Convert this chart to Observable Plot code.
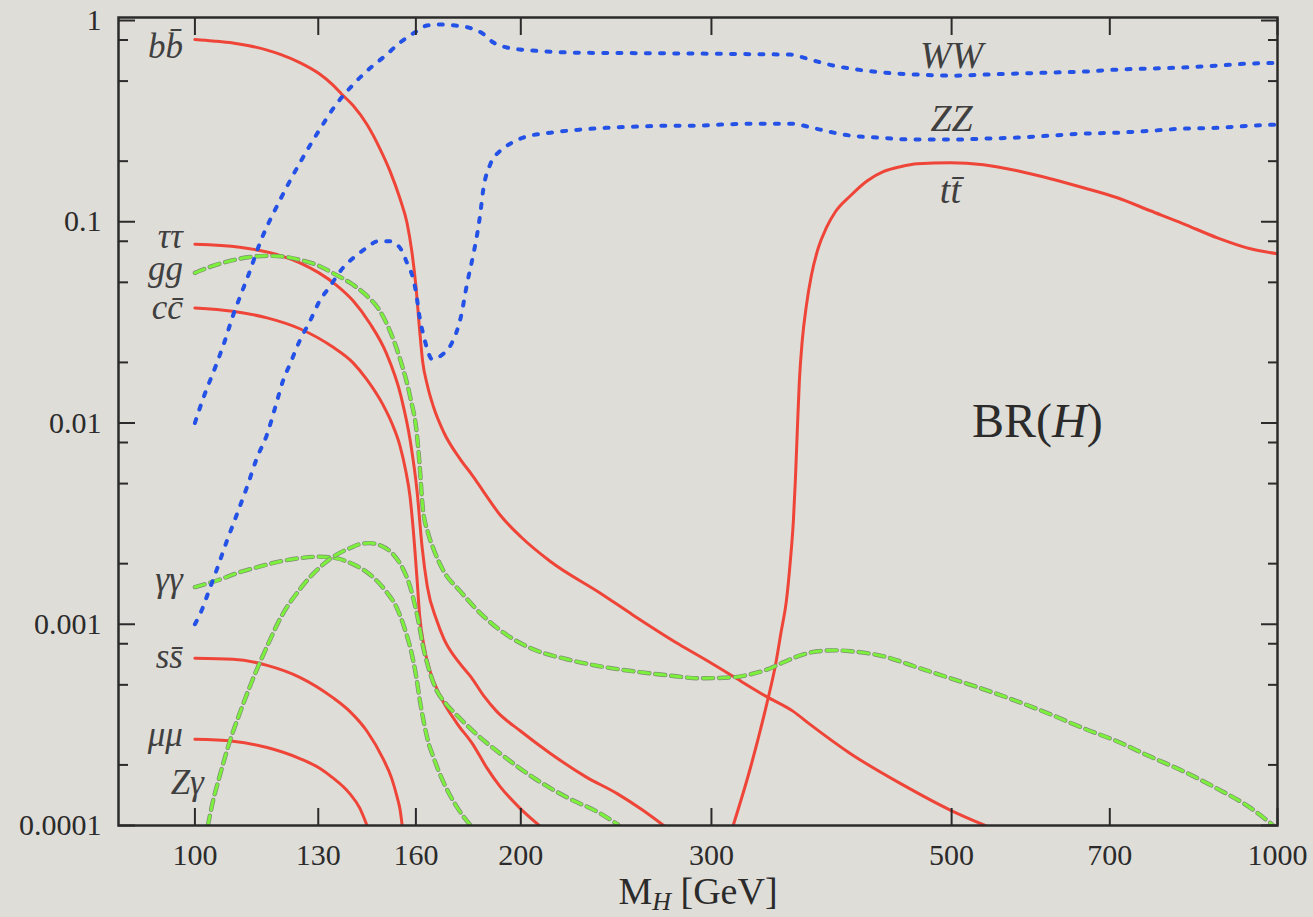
<!DOCTYPE html>
<html><head><meta charset="utf-8">
<script src="https://cdn.jsdelivr.net/npm/d3@7"></script>
<script src="https://cdn.jsdelivr.net/npm/@observablehq/plot@0.6"></script>
<style>
html,body{margin:0;padding:0;background:#dfddd8;}
#chart svg{display:block;}
</style></head><body><div id="chart"></div>
<script>
// ---- axis ticks ----
const xTicks = [100, 130, 160, 200, 300, 500, 700, 1000];
const yTicks = [0.0001, 0.001, 0.01, 0.1, 1];
const yTickLabels = ["0.0001", "0.001", "0.01", "0.1", "1"];
const yMinorTicks = [0.0002, 0.0005, 0.0008, 0.002, 0.005, 0.008, 0.02, 0.05, 0.08, 0.2, 0.5, 0.8];

// ---- branching ratios [M_H (GeV), BR] ----
const bb = [[100,0.804],[103.9,0.791],[108.4,0.773],[111.9,0.751],[116.6,0.713],[120.1,0.677],[125,0.618],[130.2,0.545],[134,0.48],[136.8,0.428],[140,0.378],[144.2,0.304],[148.2,0.231],[151.4,0.179],[154.7,0.130],[157,0.0989],[158.6,0.0717],[160,0.048],[161.3,0.0287],[162.3,0.0203],[164,0.0153],[166,0.01215],[169.9,0.00892],[175.8,0.00662],[180.6,0.00545],[184.6,0.00459],[191.4,0.00349],[200,0.00272],[213,0.00205],[236.7,0.00143],[254,0.00111],[280,0.000795],[300,0.00064],[314,0.000551],[337,0.000438],[357,0.000369],[370,0.000318],[403,0.000228],[450,0.00016],[499,0.000119],[537,0.0001]];
const tautau = [[100,0.0773],[110,0.0747],[115.1,0.0717],[120.1,0.0677],[125,0.0625],[130.2,0.0557],[135,0.0486],[140,0.0405],[145,0.0314],[150.2,0.0223],[155,0.0136],[158.1,0.00814],[160.4,0.00459],[162.1,0.00244],[163.9,0.00155],[167.3,0.00104],[169.9,0.000842],[175,0.000655],[180,0.000545],[185,0.000438],[190,0.000369],[200,0.000294],[213,0.000228],[229.5,0.000175],[245.5,0.000144],[258.7,0.00012],[271,0.0001]];
const cc = [[100,0.0373],[108.4,0.0359],[116.6,0.0333],[125,0.0294],[134,0.0239],[140,0.0199],[144,0.01656],[149.2,0.0123],[152,0.01],[154.7,0.00768],[156.6,0.00577],[158,0.00433],[159,0.00307],[160.4,0.00167],[161.3,0.0011],[162.8,0.000777],[164.7,0.000597],[168.4,0.000443],[174.6,0.000322],[180.6,0.000253],[186,0.000194],[191.4,0.000156],[199.6,0.000122],[208,0.0001]];
const ss = [[100,0.000677],[108.4,0.00067],[116.6,0.000625],[125,0.000545],[134,0.000433],[139,0.000369],[144.2,0.000294],[149.2,0.000215],[152,0.000171],[153.7,0.000139],[154.7,0.00012],[155.4,0.0001]];
const mumu = [[100,0.000268],[108.4,0.000262],[116.6,0.000244],[125,0.000215],[130.5,0.000192],[134,0.000173],[139,0.000144],[142,0.000122],[144.2,0.0001]];
const tt = [[314.2,0.0001],[325.8,0.000192],[337.9,0.000414],[343.6,0.000618],[348,0.000923],[351.8,0.0013],[354.8,0.00206],[357.1,0.00325],[358.6,0.00514],[360.1,0.00912],[361.7,0.0162],[363.9,0.0256],[367.1,0.0382],[371,0.0539],[376.6,0.0743],[383.1,0.0934],[390.5,0.1121],[403.2,0.1347],[418,0.16],[432.4,0.1773],[448.3,0.1878],[464.8,0.1944],[498.7,0.1966],[535,0.1921],[575.1,0.1793],[616.9,0.1637],[661.8,0.1476],[711.3,0.1316],[763,0.1134],[818.7,0.0977],[879.9,0.0832],[944.1,0.0734],[1000,0.0693]];
const gg = [[100,0.0557],[103.9,0.0604],[108.4,0.0644],[111.9,0.0666],[116.6,0.0677],[120.1,0.0673],[125,0.0647],[130.2,0.0604],[134,0.0557],[140,0.0486],[144.2,0.0428],[148.2,0.0361],[151.4,0.0287],[154.7,0.0208],[158,0.0136],[160.4,0.00862],[161.3,0.00611],[162.3,0.00386],[164.2,0.00284],[166,0.00239],[169.5,0.00186],[175.8,0.00146],[184.6,0.0011],[194.3,0.000882],[205.4,0.000751],[220.6,0.00067],[236.7,0.000618],[254,0.000584],[272.9,0.000558],[292.8,0.000539],[314.2,0.000545],[326,0.000564],[338,0.000597],[349.7,0.000647],[362.6,0.000701],[375.9,0.000734],[389.6,0.000742],[403.7,0.000734],[432.6,0.000693],[464.5,0.000611],[498.8,0.000539],[535.5,0.000475],[575,0.000414],[616.8,0.000357],[662,0.000304],[710.8,0.000262],[762.8,0.00022],[818.6,0.000186],[878.6,0.000153],[942.7,0.000123],[989,0.000101]];
const gamgam = [[100,0.00153],[105,0.001655],[110,0.001814],[115.1,0.001943],[120.1,0.002058],[125,0.00213],[130.2,0.002167],[135,0.00213],[140,0.001988],[145,0.001773],[150.1,0.00146],[153.7,0.0012],[156.3,0.000944],[158.4,0.000734],[160.1,0.000551],[161.4,0.000414],[162.8,0.000322],[164.2,0.000262],[166,0.00022],[169.5,0.000166],[174.5,0.000124],[179.5,0.000101]];
const Zgam = [[102.8,0.0001],[103.9,0.0001316],[105.5,0.000179],[107.7,0.000262],[110,0.000361],[113.1,0.000533],[116.6,0.000777],[119.8,0.001059],[125,0.001493],[129.6,0.001856],[134,0.002154],[139,0.002388],[142,0.0025],[145,0.00253],[148.2,0.00247],[152.4,0.00223],[155.7,0.00188],[158,0.001545],[159.6,0.001258],[161,0.001012],[162.3,0.000795],[164.2,0.000618],[166.7,0.000486],[170.4,0.000405],[174.6,0.000353],[182,0.000284],[191.4,0.000228],[205.4,0.000173],[220.6,0.000138],[236.7,0.000115],[245.9,0.000101]];
const WW = [[100,0.010],[102,0.0137],[104.3,0.0186],[106.6,0.0257],[108.4,0.034],[110,0.042],[112,0.054],[115,0.08],[120,0.13],[125,0.196],[130,0.28],[135,0.382],[140,0.48],[145,0.577],[150,0.67],[154.7,0.777],[159.5,0.87],[163.8,0.944],[168.4,0.955],[174,0.944],[178.9,0.923],[184.5,0.86],[188.7,0.777],[194.2,0.734],[199.6,0.717],[205,0.709],[213,0.70],[225,0.692],[260,0.688],[300,0.684],[330,0.68],[355,0.677],[365,0.654],[376,0.625],[389,0.597],[403,0.577],[433,0.551],[464,0.539],[500,0.532],[538,0.539],[575,0.545],[617,0.551],[661,0.557],[710,0.57],[762,0.577],[817,0.584],[880,0.597],[944,0.611],[1000,0.615]];
const ZZ = [[100,0.001],[101.5,0.00118],[102.8,0.00142],[104.8,0.00188],[107,0.00258],[109.3,0.0035],[111.7,0.0048],[114.1,0.0067],[116.6,0.0088],[118.6,0.0119],[120.6,0.0162],[122.4,0.0196],[125,0.0257],[127.7,0.032],[130.4,0.0405],[133,0.047],[137,0.059],[140,0.066],[144,0.074],[147.6,0.080],[151.5,0.080],[155,0.073],[157,0.0625],[159,0.0525],[160,0.045],[161.3,0.0334],[162.5,0.0277],[163.8,0.0236],[165.5,0.0208],[169.5,0.022],[172.6,0.0248],[176,0.0334],[178.5,0.05],[180.6,0.067],[182.3,0.087],[183.5,0.11],[184.6,0.143],[187.5,0.194],[191.4,0.225],[195.5,0.244],[201,0.262],[213,0.277],[227,0.287],[240,0.293],[256,0.297],[273,0.30],[289,0.30],[306,0.304],[326,0.307],[345,0.307],[357,0.307],[368,0.297],[378,0.287],[403,0.268],[427,0.262],[464,0.256],[500,0.256],[538,0.259],[575,0.262],[617,0.268],[661,0.274],[710,0.277],[762,0.283],[817,0.29],[880,0.293],[944,0.30],[1000,0.304]];

// ---- labels ----
const leftNames = ["bb\u0304", "\u03C4\u03C4", "gg", "cc\u0304", "\u03B3\u03B3", "ss\u0304", "\u03BC\u03BC"];
const leftSeries = [bb, tautau, gg, cc, gamgam, ss, mumu];
const annotations = [{text: "BR(H)", x: 600, y: 0.01}];

// ---- style ----
const red = "#ee4538", blue = "#2451e6", green = "#7cf03c", greenEdge = "#7d8c74";
const ink = "#2b2b2b", labelInk = "#404040";
const serif = "'Liberation Serif', 'Times New Roman', serif";
const leftDy = [18, 4, 7, 11, 4, 10, 7];

const P = {x: d => d[0], y: d => d[1], curve: "monotone-x", clip: true};
const marks = [];
for (const s of [bb, tautau, cc, ss, mumu, tt]) marks.push(Plot.line(s, {...P, stroke: red, strokeWidth: 3}));
for (const s of [gg, gamgam, Zgam]) {
  marks.push(Plot.line(s, {...P, stroke: greenEdge, strokeWidth: 4.4, strokeDasharray: "10,6"}));
  marks.push(Plot.line(s, {...P, stroke: green, strokeWidth: 3, strokeDasharray: "10,6"}));
}
for (const s of [WW, ZZ]) marks.push(Plot.line(s, {...P, stroke: blue, strokeWidth: 4, strokeDasharray: "4,10.2"}));

const labelStyle = {fontFamily: serif, fontStyle: "italic", fontSize: 35, fill: labelInk, lineAnchor: "bottom"};
leftNames.forEach((name, i) => {
  marks.push(Plot.text([leftSeries[i][0]], {x: d => d[0], y: d => d[1], text: () => name, textAnchor: "end", dx: -12, dy: leftDy[i], ...labelStyle}));
});
marks.push(Plot.text([Zgam[0]], {x: d => d[0], y: d => d[1], text: () => "Z\u03B3", textAnchor: "end", dx: -4, dy: -32, ...labelStyle}));
const at500 = s => s.filter(d => d[0] === 500 || d[0] === 498.7);
marks.push(Plot.text(at500(WW), {x: d => d[0], y: d => d[1], text: () => "WW", textAnchor: "middle", dy: -8, ...labelStyle, fontSize: 38}));
marks.push(Plot.text(at500(ZZ), {x: d => d[0], y: d => d[1], text: () => "ZZ", textAnchor: "middle", dy: -9, ...labelStyle, fontSize: 38}));
marks.push(Plot.text(at500(tt), {x: d => d[0], y: d => d[1], text: () => "tt\u0304", textAnchor: "middle", dy: 40, ...labelStyle, fontSize: 38}));
marks.push(Plot.text(annotations, {x: "x", y: "y", text: "text", textAnchor: "middle", lineAnchor: "bottom", dy: 14, fontFamily: serif, fontSize: 48, fill: ink}));
marks.push(Plot.text(["M_H [GeV]"], {frameAnchor: "bottom", text: d => d, textAnchor: "middle", lineAnchor: "bottom", dy: 78, fontFamily: serif, fontSize: 38, fill: ink}));

// axes (ticks pointing inward)
const axisStyle = {color: ink, stroke: ink, strokeWidth: 2, label: null, fontFamily: serif, fontSize: 30};
marks.push(Plot.axisX({...axisStyle, anchor: "bottom", ticks: xTicks, tickSize: -17, tickPadding: 35, tickFormat: d => String(d), fill: ink}));
marks.push(Plot.axisX({...axisStyle, anchor: "top", ticks: xTicks, tickSize: -17, tickFormat: () => "", fill: "none"}));
marks.push(Plot.axisY({...axisStyle, anchor: "left", ticks: yTicks, tickSize: -17, tickPadding: 34, tickFormat: d => yTickLabels[yTicks.indexOf(d)], fill: ink}));
marks.push(Plot.axisY({...axisStyle, anchor: "left", ticks: yMinorTicks, tickSize: -10, tickFormat: () => "", fill: "none"}));
marks.push(Plot.axisY({...axisStyle, anchor: "right", ticks: yTicks, tickSize: -17, tickFormat: () => "", fill: "none"}));
marks.push(Plot.axisY({...axisStyle, anchor: "right", ticks: yMinorTicks, tickSize: -10, tickFormat: () => "", fill: "none"}));
marks.push(Plot.frame({stroke: ink, strokeWidth: 2.5}));

const svg = Plot.plot({
  width: 1313, height: 917,
  marginTop: 17, marginBottom: 92, marginLeft: 118, marginRight: 36,
  x: {type: "log", domain: [85, 1000]},
  y: {type: "log", domain: [0.0001, 1.035]},
  style: {background: "transparent", fontFamily: serif, fontSize: "30px", color: ink},
  marks
});

// rich text: italic / subscript parts
const NS = "http://www.w3.org/2000/svg";
function rich(el, parts) {
  el.textContent = "";
  for (const p of parts) {
    const ts = document.createElementNS(NS, "tspan");
    ts.textContent = p.t;
    if (p.italic) ts.setAttribute("font-style", "italic");
    if (p.size) ts.setAttribute("font-size", p.size);
    if (p.dy) ts.setAttribute("dy", p.dy);
    el.appendChild(ts);
  }
}
d3.select(svg).selectAll("text").each(function() {
  if (this.textContent === "M_H [GeV]") rich(this, [{t: "M"}, {t: "H", italic: true, size: 26, dy: 6}, {t: " [GeV]", dy: -6}]);
  else if (this.textContent === "BR(H)") rich(this, [{t: "BR("}, {t: "H", italic: true}, {t: ")"}]);
});
document.getElementById("chart").appendChild(svg);
</script>
</body></html>
